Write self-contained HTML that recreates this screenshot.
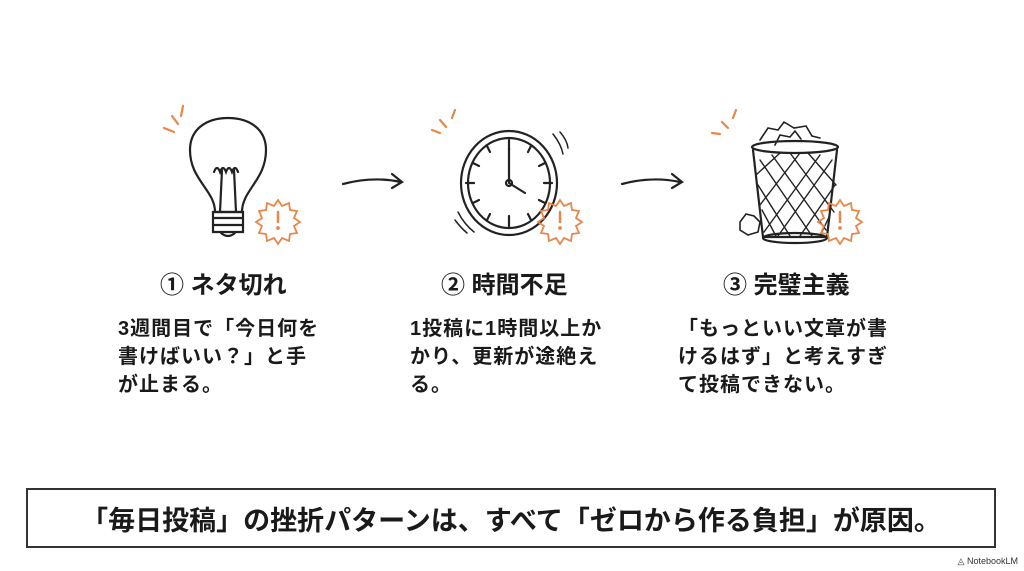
<!DOCTYPE html>
<html><head><meta charset="utf-8"><style>
body{margin:0;width:1024px;height:571px;background:#fff;overflow:hidden;position:relative;font-family:"Liberation Sans","Noto Sans CJK JP",sans-serif;color:#1a1a1a}
.t{position:absolute;font-weight:700;font-size:24px;white-space:nowrap}
.b{position:absolute;font-size:20px;line-height:28px;letter-spacing:1px;white-space:nowrap;font-weight:600}
.box{position:absolute;left:26px;top:488px;width:970px;height:60px;border:2px solid #333;box-sizing:border-box;display:flex;align-items:center;justify-content:center;font-weight:700;font-size:27px}
.nb{position:absolute;right:6px;bottom:4px;font-size:9px;color:#333}
</style></head><body>
<svg width="1024" height="480" style="position:absolute;left:0;top:0" fill="none" stroke="#222" stroke-width="2.2" stroke-linecap="round">
<g stroke="#e8874a"><line x1="164" y1="128" x2="174" y2="132"/><line x1="172" y1="116" x2="178" y2="124"/><line x1="183" y1="106" x2="181" y2="116"/></g>
<path d="M215 212 C215 190 190 180 190 150 C190 128 208 118 228 118 C248 118 266 128 266 150 C266 180 242 190 242 212 Z"/>
<path d="M220 212 L222 170 M236 212 L234 170"/>
<path d="M214 172 q3 -8 6 0 q3 -8 6 0 q3 -8 6 0 q3 -8 6 0"/>
<path d="M213 212 h30 v20 h-30 z M213 218 h30 M213 225 h30 M220 232 q8 8 16 0"/>
<g stroke="#e8874a" stroke-width="1.8"><path d="M278 200 l4 6 7-3 1 7 7 1-3 7 6 4-6 4 3 7-7 1-1 7-7-3-4 6-4-6-7 3-1-7-7-1 3-7-6-4 6-4-3-7 7-1 1-7 7 3z"/><line x1="278" y1="212" x2="278" y2="222" stroke-width="2.5"/><circle cx="278" cy="228" r="1" fill="#e8874a"/></g>
<path d="M343 184 q30 -8 58 -2 M392 174 l10 8 -10 6"/>
<g stroke="#e8874a"><line x1="432" y1="130" x2="440" y2="133"/><line x1="440" y1="120" x2="446" y2="127"/><line x1="455" y1="110" x2="452" y2="118"/></g>
<ellipse cx="509" cy="183" rx="48" ry="52"/><ellipse cx="509" cy="183" rx="41" ry="45"/>
<path d="M509 140v10M509 216v10M466 183h8M544 183h8M531 146l-3 6M487 146l3 6M531 220l-3-6M487 220l3-6M545 163l-6 3M473 163l6 3M545 203l-6-3M473 203l6-3"/>
<path d="M509 183V148M509 183l16 10"/><circle cx="509" cy="183" r="3"/>
<path d="M553 134q8 10 10 20M560 132q7 8 8 16M458 212q6 12 16 20M455 220q6 8 12 13" stroke-width="1.5"/>
<g stroke="#e8874a" stroke-width="1.8" transform="translate(282,0)"><path d="M278 200 l4 6 7-3 1 7 7 1-3 7 6 4-6 4 3 7-7 1-1 7-7-3-4 6-4-6-7 3-1-7-7-1 3-7-6-4 6-4-3-7 7-1 1-7 7 3z"/><line x1="278" y1="212" x2="278" y2="222" stroke-width="2.5"/><circle cx="278" cy="228" r="1" fill="#e8874a"/></g>
<path d="M622 184 q30 -8 58 -2 M672 174 l10 8 -10 6"/>
<g stroke="#e8874a"><line x1="712" y1="133" x2="720" y2="134"/><line x1="722" y1="122" x2="728" y2="128"/><line x1="736" y1="110" x2="733" y2="118"/></g>
<path d="M760 140 l8-12 10 2 6-8 10 6 12-2 6 10 8 2 M775 145 l5-10 10 2 5-6 6 8" stroke-width="1.6"/>
<ellipse cx="795" cy="147" rx="43" ry="6"/>
<path d="M753 150 L763 237 H827 L837 150"/>
<ellipse cx="795" cy="238" rx="32" ry="5"/>
<path d="M760 160L812 236M772 155L826 230M790 153L834 212M808 153L836 185M758 185L790 236M762 210L776 236M832 160L778 236M820 155L764 232M800 153L760 205M780 153L756 175M835 185L800 236M830 215L820 236" stroke-width="1.4"/>
<path d="M740 222 l6-8 8 2 6 6-2 10-10 3-8-5z" stroke-width="1.6"/>
<g stroke="#e8874a" stroke-width="1.8" transform="translate(562,0)"><path d="M278 200 l4 6 7-3 1 7 7 1-3 7 6 4-6 4 3 7-7 1-1 7-7-3-4 6-4-6-7 3-1-7-7-1 3-7-6-4 6-4-3-7 7-1 1-7 7 3z"/><line x1="278" y1="212" x2="278" y2="222" stroke-width="2.5"/><circle cx="278" cy="228" r="1" fill="#e8874a"/></g>
</svg>
<div class="t" style="left:160px;top:265px">① ネタ切れ</div>
<div class="t" style="left:441px;top:265px">② 時間不足</div>
<div class="t" style="left:723px;top:265px">③ 完璧主義</div>
<div class="b" style="left:118px;top:315px">3週間目で「今日何を<br>書けばいい？」と手<br>が止まる。</div>
<div class="b" style="left:410px;top:315px">1投稿に1時間以上か<br>かり、更新が途絶え<br>る。</div>
<div class="b" style="left:678px;top:315px">「もっといい文章が書<br>けるはず」と考えすぎ<br>て投稿できない。</div>
<div class="box">「毎日投稿」の挫折パターンは、すべて「ゼロから作る負担」が原因。</div>
<div class="nb">◬ NotebookLM</div>
</body></html>
